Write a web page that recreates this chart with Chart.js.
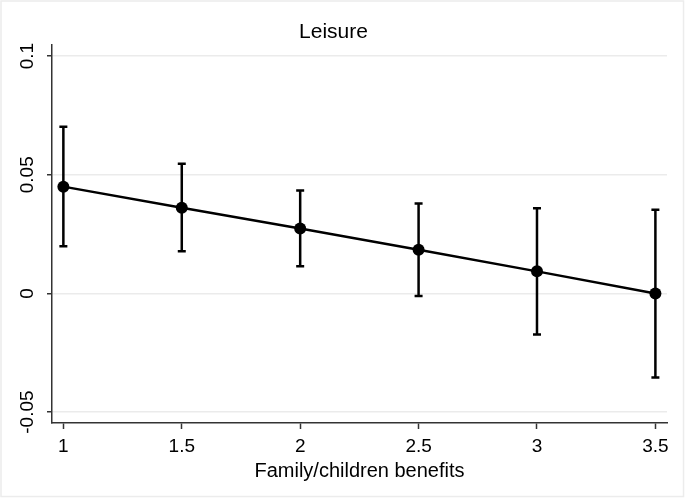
<!DOCTYPE html>
<html>
<head>
<meta charset="utf-8">
<script src="https://cdn.jsdelivr.net/npm/chart.js@4"></script>
<style>
  html, body { margin: 0; padding: 0; background: #fff; }
  #wrap { width: 685px; height: 498px; }
</style>
</head>
<body>
<div id="wrap"><canvas id="chart" width="685" height="498"></canvas></div>
<script>
// Leisure: margins by family/children benefits, with 95% CI
const benefits = [1, 1.5, 2, 2.5, 3, 3.5];
const margins = [0.0450, 0.0361, 0.0274, 0.0184, 0.0093, 0.0000];
const ciLow = [0.0199, 0.0178, 0.0114, -0.0011, -0.0173, -0.0354];
const ciHigh = [0.0702, 0.0546, 0.0434, 0.0379, 0.0359, 0.0353];
const xTicks = [1, 1.5, 2, 2.5, 3, 3.5];
const yTicks = [-0.05, 0, 0.05, 0.1];

Chart.defaults.font.family = '"Liberation Sans", Arial, sans-serif';
Chart.defaults.color = "#000";

// white background + faint outer frame
const frame = {
  id: "frame",
  beforeDraw(chart) {
    const ctx = chart.ctx;
    ctx.save();
    ctx.fillStyle = "#fff";
    ctx.fillRect(0, 0, chart.width, chart.height);
    ctx.strokeStyle = "#ececec";
    ctx.lineWidth = 1.5;
    ctx.strokeRect(1, 1, chart.width - 2.5, chart.height - 2.5);
    ctx.restore();
  }
};

// capped CI spikes
const errorBars = {
  id: "errorBars",
  beforeDatasetsDraw(chart) {
    const { ctx, scales: { x, y } } = chart;
    ctx.save();
    ctx.strokeStyle = "#000";
    ctx.lineWidth = 2.5;
    benefits.forEach((b, i) => {
      const px = x.getPixelForValue(b);
      const lo = y.getPixelForValue(ciLow[i]);
      const hi = y.getPixelForValue(ciHigh[i]);
      ctx.beginPath();
      ctx.moveTo(px, lo); ctx.lineTo(px, hi);
      ctx.moveTo(px - 4, lo); ctx.lineTo(px + 4, lo);
      ctx.moveTo(px - 4, hi); ctx.lineTo(px + 4, hi);
      ctx.stroke();
    });
    ctx.restore();
  }
};

// vertical (rotated) y tick labels, Stata style
const yLabels = {
  id: "yLabels",
  afterDraw(chart) {
    const { ctx, scales: { y } } = chart;
    ctx.save();
    ctx.fillStyle = "#000";
    ctx.font = '19px "Liberation Sans", Arial, sans-serif';
    ctx.textAlign = "center";
    ctx.textBaseline = "middle";
    y.ticks.forEach(t => {
      const py = y.getPixelForValue(t.value);
      ctx.save();
      ctx.translate(y.left + 28, py);
      ctx.rotate(-Math.PI / 2);
      ctx.fillText(String(t.value), 0, 0);
      ctx.restore();
    });
    ctx.restore();
  }
};

new Chart(document.getElementById("chart"), {
  type: "scatter",
  data: {
    datasets: [{
      data: benefits.map((b, i) => ({ x: b, y: margins[i] })),
      showLine: true,
      borderColor: "#000",
      borderWidth: 2.5,
      pointRadius: 6,
      pointBackgroundColor: "#000",
      pointBorderWidth: 0
    }]
  },
  options: {
    responsive: false,
    animation: false,
    layout: { padding: { top: 0, right: 18, left: 0, bottom: 0 } },
    plugins: {
      legend: { display: false },
      tooltip: { enabled: false },
      title: {
        display: true,
        text: "Leisure",
        color: "#000",
        font: { size: 21, weight: "normal" },
        padding: { top: 20, bottom: 0 }
      }
    },
    scales: {
      x: {
        type: "linear",
        min: 0.952,
        max: 3.549,
        afterBuildTicks: s => { s.ticks = xTicks.map(v => ({ value: v })); },
        afterFit: s => { s.height = 75; },
        grid: { drawOnChartArea: false, tickLength: 6, tickColor: "#333", tickWidth: 1.5 },
        border: { color: "#333", width: 1.5 },
        ticks: { font: { size: 19 }, color: "#000", padding: 6, maxRotation: 0, callback: v => String(v) },
        title: {
          display: true,
          text: "Family/children benefits",
          color: "#000",
          font: { size: 20 },
          padding: { top: 0, bottom: 15 }
        }
      },
      y: {
        min: -0.0546,
        max: 0.1046,
        afterBuildTicks: s => { s.ticks = yTicks.map(v => ({ value: v })); },
        afterFit: s => { s.width = 52; },
        grid: { color: "#ebebeb", lineWidth: 1.5, tickLength: 5, tickColor: "#333", tickWidth: 1.5 },
        border: { color: "#333", width: 1.5 },
        ticks: { color: "rgba(0,0,0,0)", font: { size: 19 } }
      }
    }
  },
  plugins: [frame, errorBars, yLabels]
});
</script>
</body>
</html>
